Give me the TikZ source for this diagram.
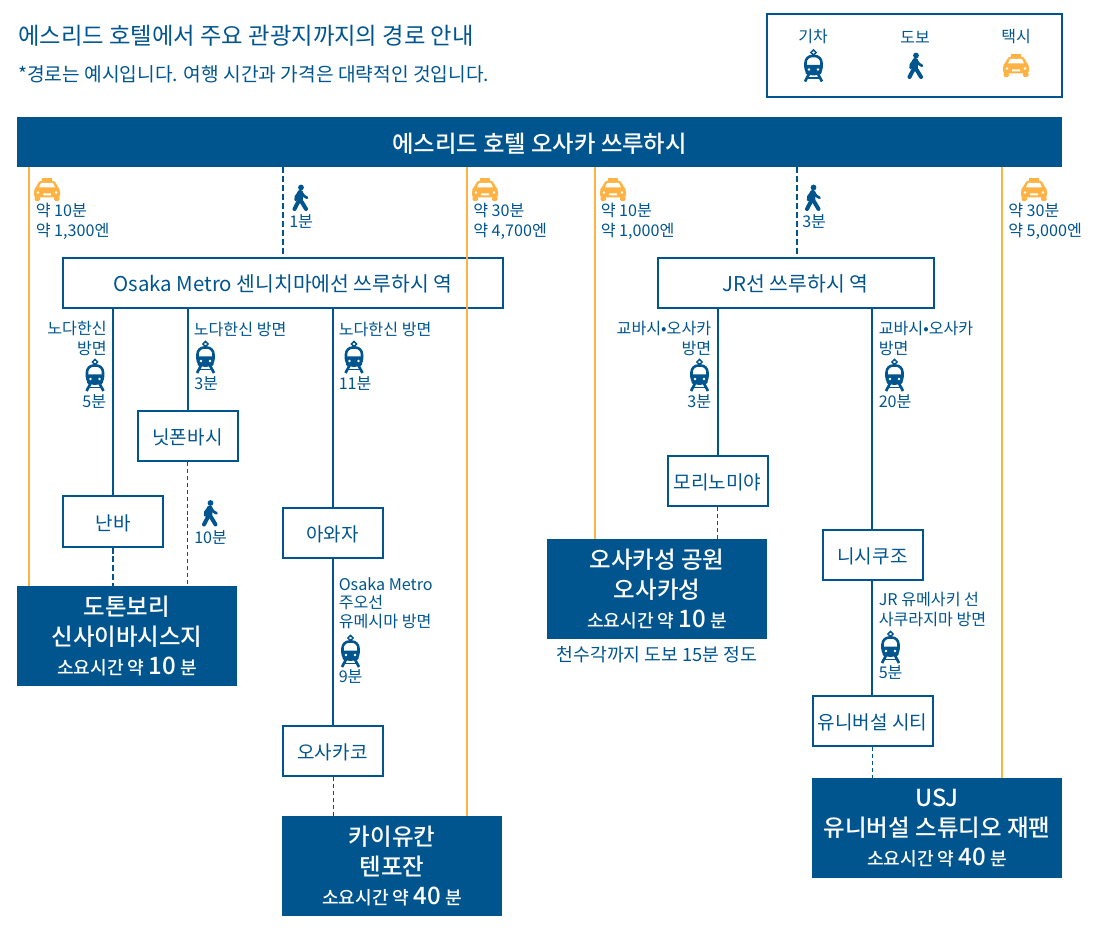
\documentclass[tikz,border=0pt]{standalone}
\usepackage{fontspec}
\setmainfont{Noto Sans CJK KR}
\newfontfamily\medfont{Noto Sans CJK KR Medium}
\definecolor{routeblue}{HTML}{00558F}
\definecolor{taxiorange}{HTML}{FDB243}
\newcommand{\fsize}[1]{\fontsize{#1}{#1}\selectfont}
\newcommand{\timeline}[1]{\fontsize{13.6}{18}\selectfont 소요시간 약 {\fontsize{18}{18}\selectfont #1} 분}

\tikzset{
  pics/trainicon/.style={code={
    \draw[routeblue,line width=1.1] (0,-16) -- (2.6,-13.5) -- (0,-11) -- (-2.6,-13.5) -- cycle;
    \draw[routeblue,line width=1.9,rounded corners=5] (-8,8) -- (-8,-10) -- (8,-10) -- (8,8) -- cycle;
    \fill[routeblue,rounded corners=1] (-8,-1) rectangle (8,8.5);
    \fill[white] (-4.5,3.5) circle (1.3) (4.5,3.5) circle (1.3);
    \draw[routeblue,line width=2] (-4.5,8) -- (-8.5,15.5) (4.5,8) -- (8.5,15.5);
    \draw[routeblue,line width=1.4] (-6.5,12) -- (6.5,12);
  }},
  pics/walkicon/.style={code={
    \fill[routeblue] (0.5,-10) circle (2.9);
    \draw[routeblue,line width=4.6,line cap=round] (-0.3,-4.5) -- (-0.8,2);
    \draw[routeblue,line width=2,line cap=round] (0.5,-5.5) -- (3.5,-1.5) -- (6.5,0.3);
    \draw[routeblue,line width=2,line cap=round] (-1.5,-5) -- (-4.5,-1) -- (-4.8,2.5);
    \draw[routeblue,line width=3,line cap=round] (-1,2) -- (-6,11.5);
    \draw[routeblue,line width=3,line cap=round] (-0.5,2) -- (2.2,6) -- (5.5,11.5);
  }},
  pics/taxiicon/.style={code={
    \fill[taxiorange] (-5,-11.5) rectangle (5,-8);
    \fill[taxiorange,rounded corners=2] (-7.5,-9) -- (7.5,-9) -- (11,-2) -- (13,0) -- (13,8) -- (-13,8) -- (-13,0) -- (-11,-2) -- cycle;
    \fill[taxiorange,rounded corners=1] (-12.5,7) rectangle (-7,11.5) (7,7) rectangle (12.5,11.5);
    \fill[white] (-6,-6.5) -- (6,-6.5) -- (8,-2) -- (-8,-2) -- cycle;
    \fill[white] (-9,3) circle (1.3) (9,3) circle (1.3) (-4,4) rectangle (4,5.8);
  }}
}

\begin{document}
\begin{tikzpicture}[x=0.75pt,y=-0.75pt,
  stopbox/.style={draw=routeblue,line width=1.5pt,fill=white,text=routeblue,font=\fsize{14.3},inner sep=0pt,minimum height=37.5pt,text height=13.5pt,text depth=0.6pt},
  destbox/.style={fill=routeblue,text=white,inner sep=0pt,align=center,minimum height=75pt,font=\medfont\fontsize{17.6}{22.5}\selectfont},
  lbl/.style={text=routeblue,font=\fontsize{12.1}{15}\selectfont,inner sep=0pt,align=left,anchor=west},
  lblr/.style={text=routeblue,font=\fontsize{12.1}{15}\selectfont,inner sep=0pt,align=right,anchor=east},
  legendlbl/.style={text=routeblue,font=\fsize{12},inner sep=0pt},
  mainline/.style={routeblue,line width=1.5pt},
  taxiline/.style={taxiorange,line width=1.7pt},
  walkline/.style={routeblue,line width=1.5pt,dash pattern=on 4.5pt off 2.2pt},
  thinwalk/.style={routeblue,line width=0.6pt,dash pattern=on 3pt off 2.2pt},
  greywalk/.style={black!55!brown,line width=0.6pt,dash pattern=on 3pt off 2.2pt}]
  \useasboundingbox (0,0) rectangle (1100,930);

  % title and legend
  \node[text=routeblue,font=\fsize{17.5},inner sep=0pt,anchor=west] (title) at (18,36) {에스리드 호텔에서 주요 관광지까지의 경로 안내};
  \node[text=routeblue,font=\fsize{14.4},inner sep=0pt,anchor=west] (note) at (18,74) {*경로는 예시입니다. 여행 시간과 가격은 대략적인 것입니다.};
  \node[draw=routeblue,line width=1.5pt,minimum width=221pt,minimum height=62pt,inner sep=0pt] (legend) at (914.5,55.5) {};
  \node[legendlbl] (legtrain) at (813,37) {기차};
  \node[legendlbl] (legwalk) at (915,37) {도보};
  \node[legendlbl] (legtaxi) at (1016,37) {택시};
  \pic at (813.5,66) {trainicon};
  \pic at (915.5,65.5) {walkicon};
  \pic at (1016,65.5) {taxiicon};

  % boxes
  \node[fill=routeblue,text=white,font=\medfont\fsize{17.5},inner sep=0pt,minimum width=783.75pt,minimum height=37.5pt,text height=16pt,text depth=0.5pt] (hotel) at (539.5,142) {에스리드 호텔 오사카 쓰루하시};
  \node[stopbox,font=\fsize{15.3},minimum width=330pt] (metro) at (283,283) {Osaka Metro 센니치마에선 쓰루하시 역};
  \node[stopbox,font=\fsize{15.3},minimum width=207pt] (jr) at (795.5,283) {JR선 쓰루하시 역};
  \node[stopbox,minimum width=75pt] (namba) at (113,521.5) {난바};
  \node[stopbox,minimum width=75pt] (nippon) at (187.5,436) {닛폰바시};
  \node[stopbox,minimum width=75pt] (awaza) at (332.5,533) {아와자};
  \node[stopbox,minimum width=75pt] (osakako) at (332.5,751) {오사카코};
  \node[stopbox,minimum width=75pt] (morino) at (717.5,481) {모리노미야};
  \node[stopbox,minimum width=75pt] (nishi) at (872.5,554.5) {니시쿠조};
  \node[stopbox,minimum width=90pt] (univ) at (872.5,721) {유니버설 시티};

  \node[destbox,minimum width=165pt] (dotonbori) at (127,636) {\raisebox{-1.5pt}{도톤보리}\\\raisebox{-1.5pt}{신사이바시스지}\\[0.8pt]\timeline{10}};
  \node[destbox,minimum width=165pt] (kaiyukan) at (392,866) {\raisebox{-1.5pt}{카이유칸}\\\raisebox{-1.5pt}{텐포잔}\\[0.8pt]\timeline{40}};
  \node[destbox,minimum width=165pt] (castle) at (657,589) {\raisebox{-1.5pt}{오사카성 공원}\\\raisebox{-1.5pt}{오사카성}\\[0.8pt]\timeline{10}};
  \node[destbox,minimum width=187.5pt] (usj) at (937,828) {\raisebox{-1.5pt}{USJ}\\\raisebox{-1.5pt}{유니버설 스튜디오 재팬}\\[0.8pt]\timeline{40}};
  \node[text=routeblue,font=\fsize{13.7},inner sep=0pt] (tenshu) at (657,655) {천수각까지 도보 15분 정도};

  % x positions of the routes
  \coordinate (xa) at (29,0);
  \coordinate (xb) at (283,0);
  \coordinate (xc) at (467,0);
  \coordinate (xd) at (595,0);
  \coordinate (xe) at (797,0);
  \coordinate (xf) at (1002,0);
  \coordinate (xg) at (112.5,0);
  \coordinate (xh) at (187.5,0);
  \coordinate (xi) at (333,0);
  \coordinate (xj) at (717.5,0);
  \coordinate (xk) at (872,0);

  \draw[taxiline] (hotel.south -| xa) -- (dotonbori.north -| xa);
  \draw[taxiline] (hotel.south -| xc) -- (kaiyukan.north -| xc);
  \draw[taxiline] (hotel.south -| xd) -- (castle.north -| xd);
  \draw[taxiline] (hotel.south -| xf) -- (usj.north -| xf);
  \draw[walkline] (hotel.south -| xb) -- (metro.north -| xb);
  \draw[walkline] (hotel.south -| xe) -- (jr.north -| xe);
  \draw[mainline] (metro.south -| xg) -- (namba.north -| xg);
  \draw[mainline] (metro.south -| xh) -- (nippon.north -| xh);
  \draw[mainline] (metro.south -| xi) -- (awaza.north -| xi);
  \draw[mainline] (awaza.south -| xi) -- (osakako.north -| xi);
  \draw[mainline] (jr.south -| xj) -- (morino.north -| xj);
  \draw[mainline] (jr.south -| xk) -- (nishi.north -| xk);
  \draw[mainline] (nishi.south -| xk) -- (univ.north -| xk);
  \draw[walkline] (namba.south -| xg) -- (dotonbori.north -| xg);
  \draw[thinwalk] (nippon.south -| xh) -- (dotonbori.north -| xh);
  \draw[greywalk] (osakako.south -| xi) -- (kaiyukan.north -| xi);
  \draw[thinwalk] (morino.south -| xj) -- (castle.north -| xj);
  \draw[thinwalk] (univ.south -| xk) -- (usj.north -| xk);

  % taxi routes
  \pic at (47,189.5) {taxiicon};
  \pic at (485,189.5) {taxiicon};
  \pic at (613,189.5) {taxiicon};
  \pic at (1034,189.5) {taxiicon};
  \node[lbl] (taxia) at (35.5,221.5) {약 10분\\약 1,300엔};
  \node[lbl] (taxib) at (473,221.5) {약 30분\\약 4,700엔};
  \node[lbl] (taxic) at (600.5,221.5) {약 10분\\약 1,000엔};
  \node[lbl] (taxid) at (1008,221.5) {약 30분\\약 5,000엔};

  % walks
  \pic at (300.5,197.5) {walkicon};
  \pic at (813,197.5) {walkicon};
  \pic at (210,513) {walkicon};
  \node[lbl] (walka) at (289,222) {1분};
  \node[lbl] (walkb) at (802,222) {3분};
  \node[lbl] (walkc) at (194,537.5) {10분};

  % metro labels
  \node[lblr] (noda) at (107,338) {노다한신\\방면};
  \pic at (95,375.5) {trainicon};
  \node[lblr] (nodat) at (106.5,402) {5분};
  \node[lbl] (nodb) at (193.5,329) {노다한신 방면};
  \pic at (205.5,357.5) {trainicon};
  \node[lbl] (nodbt) at (194,384) {3분};
  \node[lbl] (nodc) at (338.5,329) {노다한신 방면};
  \pic at (354,357.5) {trainicon};
  \node[lbl] (nodct) at (338.5,384) {11분};
  \node[lbl,font=\fontsize{12.1}{14}\selectfont] (chuo) at (338.5,603) {Osaka Metro\\주오선\\유메시마 방면};
  \pic at (350.5,651.5) {trainicon};
  \node[lbl] (chuot) at (338.5,676.5) {9분};

  % jr labels
  \node[lblr] (kyoa) at (711.5,338) {교바시•오사카\\방면};
  \pic at (699.5,375.5) {trainicon};
  \node[lblr] (kyoat) at (711.5,402) {3분};
  \node[lbl] (kyob) at (878.5,338) {교바시•오사카\\방면};
  \pic at (894.5,375.5) {trainicon};
  \node[lbl] (kyobt) at (878.5,402) {20분};
  \node[lbl] (yume) at (878.5,609.5) {JR 유메사키 선\\사쿠라지마 방면};
  \pic at (890.5,647.5) {trainicon};
  \node[lbl] (yumet) at (878.5,673) {5분};
\end{tikzpicture}
\end{document}
